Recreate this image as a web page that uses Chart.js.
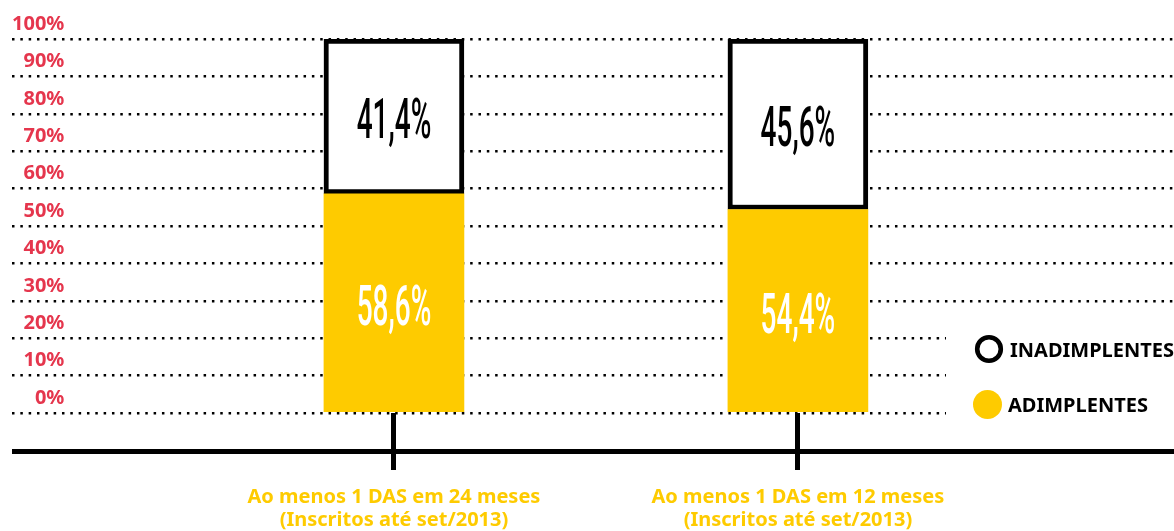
<!DOCTYPE html>
<html>
<head>
<meta charset="utf-8">
<script src="https://cdn.jsdelivr.net/npm/chart.js@4.4.1/dist/chart.umd.min.js"></script>
<style>
    body { margin: 0; background: #fff; }
    #wrap { width: 1174px; height: 531px; }
</style>
</head>
<body>
<div id="wrap"><canvas id="myChart"></canvas></div>
<script>
const categories = [
    ['Ao menos 1 DAS em 24 meses', '(Inscritos até set/2013)'],
    ['Ao menos 1 DAS em 12 meses', '(Inscritos até set/2013)']
];
const adimplentes = [58.6, 54.4];
const inadimplentes = [41.4, 45.6];
const yTicks = [0, 10, 20, 30, 40, 50, 60, 70, 80, 90, 100];

const YELLOW = '#fecb00';
const RED = '#e5364d';

document.addEventListener('DOMContentLoaded', function () {
    const ctx = document.getElementById('myChart').getContext('2d');

    // bar values inside the segments, tall condensed numbers
    const valueLabels = {
        id: 'valueLabels',
        afterDatasetsDraw(chart) {
            const c = chart.ctx;
            chart.data.datasets.forEach((ds, di) => {
                chart.getDatasetMeta(di).data.forEach((bar, i) => {
                    const cy = (bar.y + bar.base) / 2 + 8;
                    const txt = ds.data[i].y.toFixed(1).replace('.', ',') + '%';
                    c.save();
                    c.translate(bar.x, cy);
                    c.scale(0.5, 1);
                    c.font = '500 56px Roboto';
                    c.textAlign = 'center';
                    c.textBaseline = 'middle';
                    c.fillStyle = ds.valueColor;
                    c.fillText(txt, 0, 0);
                    c.restore();
                });
            });
        }
    };

    // thick base line under the bars
    const baseLine = {
        id: 'baseLine',
        afterDraw(chart) {
            const c = chart.ctx;
            const a = chart.chartArea;
            c.save();
            c.fillStyle = '#000';
            c.fillRect(a.left, a.bottom + 36, a.right - a.left, 5);
            c.restore();
        }
    };

    // legend at the lower right, over the grid
    const sideLegend = {
        id: 'sideLegend',
        afterDraw(chart) {
            const c = chart.ctx;
            c.save();
            c.fillStyle = '#fff';
            c.fillRect(946, 328, 228, 92);
            c.font = 'bold 20px "Noto Sans"';
            c.textBaseline = 'middle';
            c.textAlign = 'left';

            c.beginPath();
            c.arc(989, 349, 11.8, 0, Math.PI * 2);
            c.lineWidth = 4.6;
            c.strokeStyle = '#000';
            c.stroke();
            c.fillStyle = '#000';
            c.fillText(chart.data.datasets[1].label, 1010, 351);

            c.beginPath();
            c.arc(987.5, 404.5, 14.5, 0, Math.PI * 2);
            c.fillStyle = YELLOW;
            c.fill();
            c.fillStyle = '#000';
            c.fillText(chart.data.datasets[0].label, 1008, 406);
            c.restore();
        }
    };

    const myChart = new Chart(ctx, {
        type: 'bar',
        data: {
            datasets: [{
                label: 'ADIMPLENTES',
                data: adimplentes.map((v, i) => ({ x: i, y: v })),
                backgroundColor: YELLOW,
                borderWidth: 0,
                valueColor: '#fff'
            }, {
                label: 'INADIMPLENTES',
                data: inadimplentes.map((v, i) => ({ x: i, y: v })),
                backgroundColor: '#fff',
                borderColor: '#000',
                borderWidth: 5,
                borderSkipped: false,
                valueColor: '#000'
            }]
        },
        options: {
            responsive: true,
            maintainAspectRatio: false,
            animation: false,
            barThickness: 140,
            layout: { padding: { left: 12, right: 0, top: 39, bottom: 0 } },
            plugins: {
                legend: { display: false },
                tooltip: { enabled: false }
            },
            scales: {
                x: {
                    type: 'linear',
                    stacked: true,
                    offset: false,
                    min: -0.9455,
                    max: 1.931,
                    afterBuildTicks: scale => {
                        scale.ticks = categories.map((c, i) => ({ value: i }));
                    },
                    afterFit: scale => { scale.height = 118; },
                    border: { display: false },
                    grid: {
                        offset: false,
                        drawOnChartArea: false,
                        color: '#000',
                        lineWidth: 5,
                        tickLength: 57
                    },
                    ticks: {
                        autoSkip: false,
                        maxRotation: 0,
                        padding: 16,
                        color: YELLOW,
                        font: { family: 'Noto Sans', size: 20, weight: 'bold', lineHeight: 1.15 },
                        callback: value => categories[value]
                    }
                },
                y: {
                    stacked: true,
                    min: 0,
                    max: 100,
                    afterBuildTicks: scale => {
                        scale.ticks = yTicks.map(v => ({ value: v }));
                    },
                    border: { display: false, dash: [2.5, 5.83] },
                    grid: {
                        color: '#000',
                        lineWidth: 2.5,
                        drawTicks: false
                    },
                    ticks: {
                        mirror: true,
                        crossAlign: 'far',
                        padding: 0,
                        labelOffset: -15,
                        color: RED,
                        font: { family: 'Noto Sans', size: 20, weight: 'bold' },
                        callback: value => value + '%'
                    }
                }
            }
        },
        plugins: [valueLabels, baseLine, sideLegend]
    });
});
</script>
</body>
</html>
